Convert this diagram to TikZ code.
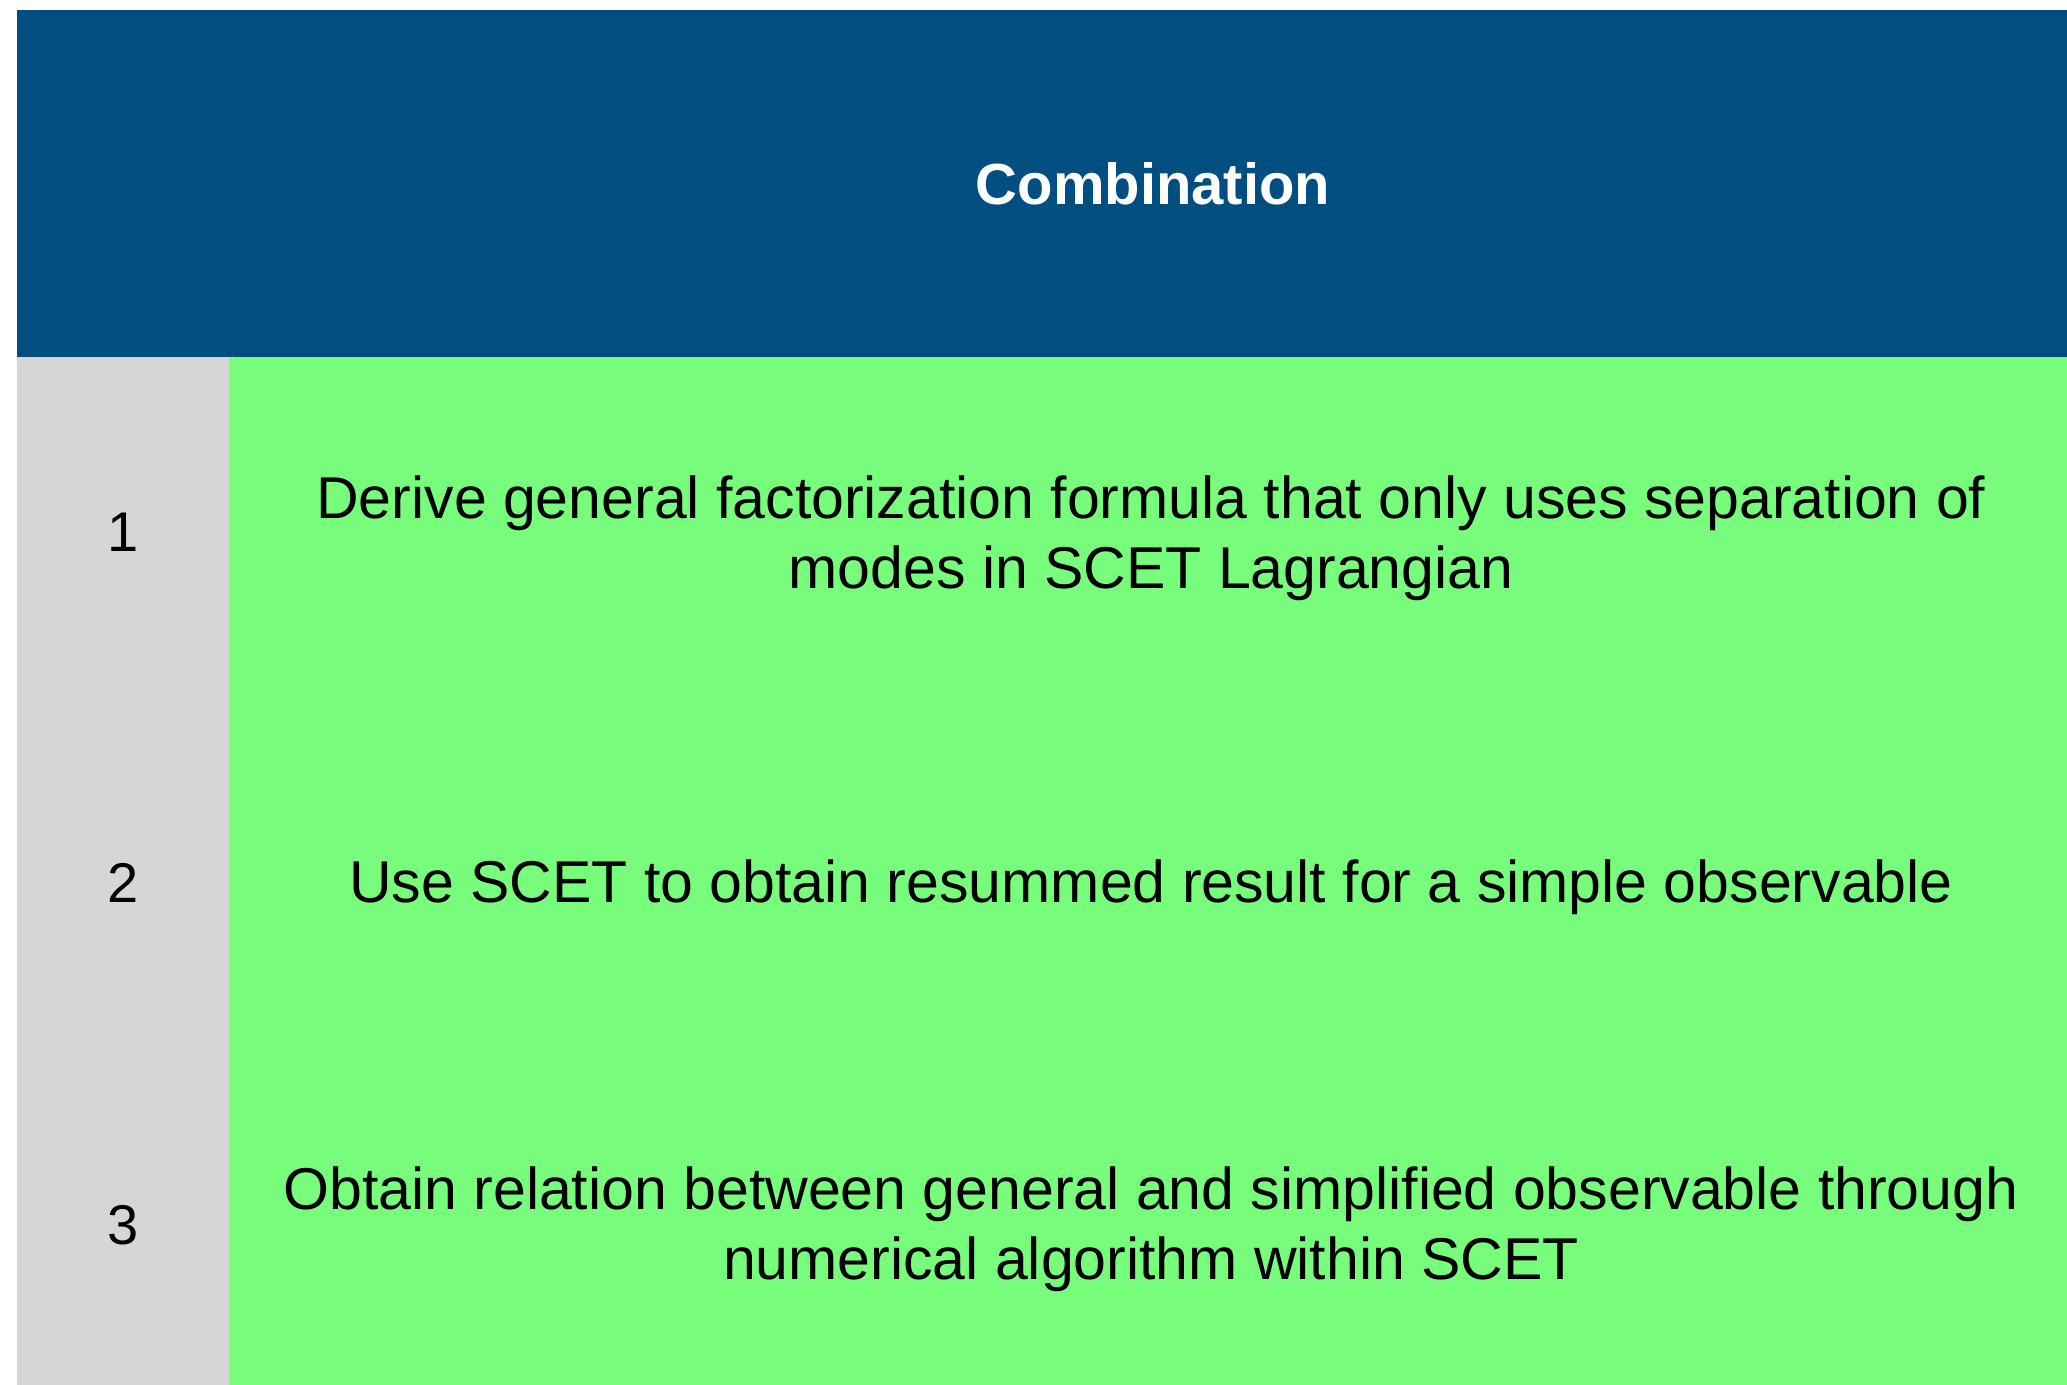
\documentclass[tikz,border=0pt]{standalone}
\usepackage{fontspec}
\setmainfont{Liberation Sans}
\definecolor{headblue}{HTML}{004F80}
\definecolor{colgray}{HTML}{D6D6D6}
\definecolor{cellgreen}{HTML}{77FC7B}
\begin{document}
\begin{tikzpicture}[x=0.5pt,y=-0.5pt,
  bodytext/.style={inner sep=0pt, align=center, text=black,
    font=\fontsize{29.5}{35}\selectfont},
  linetext/.style={inner sep=0pt, text=black, font=\fontsize{29.5}{35}\selectfont},
  numtext/.style={inner sep=0pt, text=black, font=\fontsize{28}{35}\selectfont},
  headtext/.style={inner sep=0pt, text=white, font=\fontsize{29}{35}\selectfont\bfseries}]
  \useasboundingbox (0,0) rectangle (2067,1385);
  % table cells
  \fill[headblue] (17,10) rectangle (2067,357);
  \fill[colgray] (17,357) rectangle (229,1385);
  \fill[cellgreen] (229,357) rectangle (2067,1385);
  % header
  \node[headtext, anchor=base] (head) at (1153,205) {Combination};
  % row numbers
  \node[numtext, anchor=base] (n1) at (123,552) {1};
  \node[numtext, anchor=base] (n2) at (123,902) {2};
  \node[numtext, anchor=base] (n3) at (123,1244) {3};
  % row texts
  \node[bodytext] (t1) at (1151,538) {Derive general factorization formula that only uses separation of\\modes in SCET Lagrangian};
  \node[linetext, anchor=base] (t2) at (1151,902) {Use SCET to obtain resummed result for a simple observable};
  \node[bodytext] (t3) at (1151,1229) {Obtain relation between general and simplified observable through\\numerical algorithm within SCET};
\end{tikzpicture}
\end{document}
